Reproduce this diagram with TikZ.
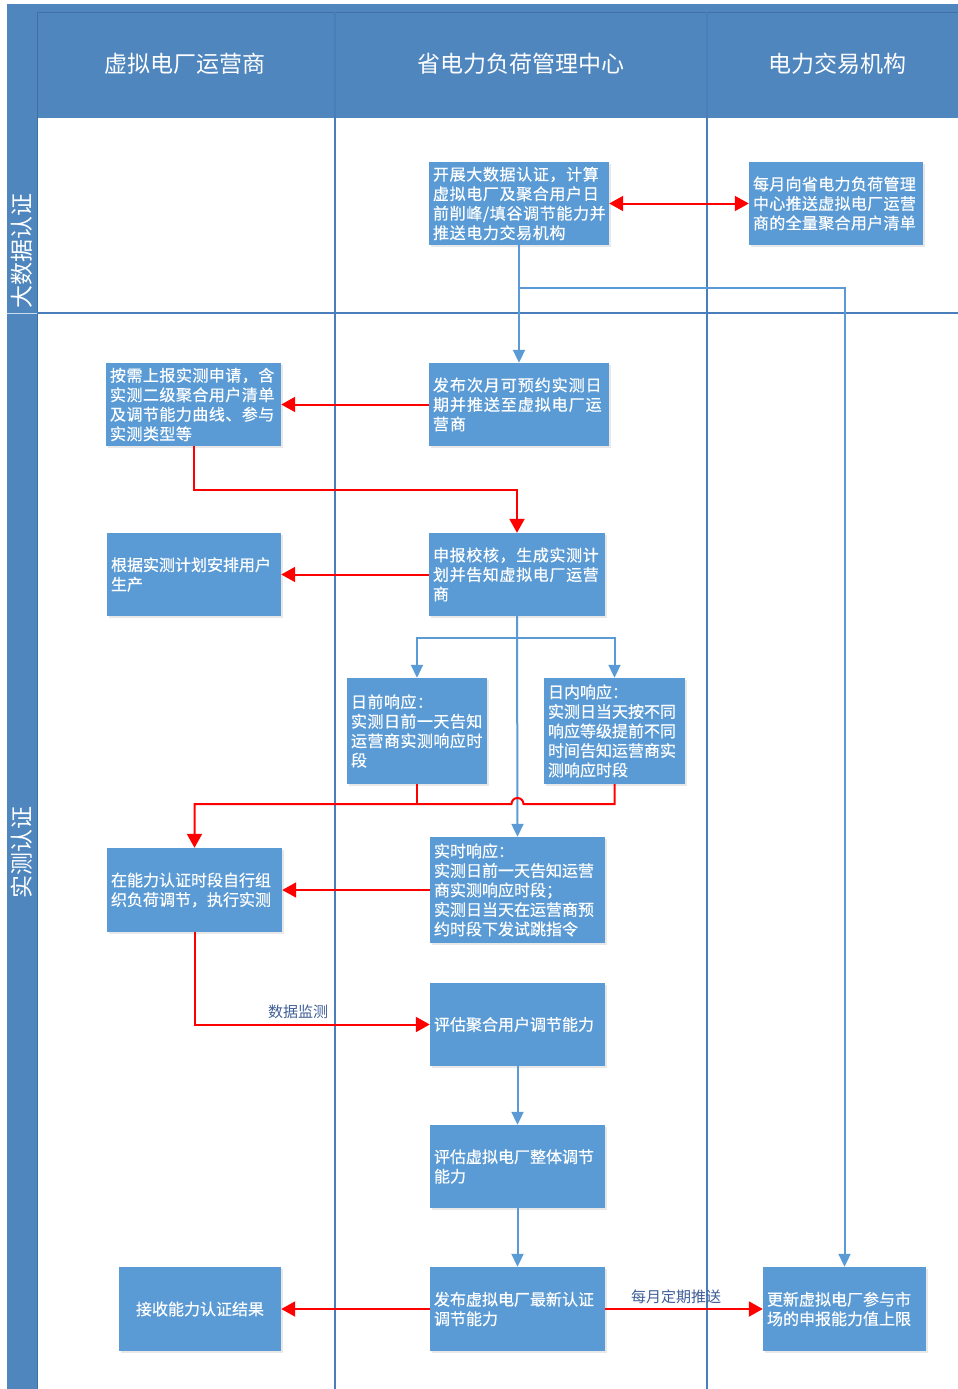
\documentclass[tikz,border=0pt]{standalone}
\usepackage{fontspec}
\setmainfont{Noto Sans CJK SC}
\usetikzlibrary{arrows.meta,shadows,calc}
\definecolor{boxblue}{HTML}{5B9BD5}
\definecolor{headblue}{HTML}{4F86BE}
\definecolor{laneline}{HTML}{4A7EBB}
\definecolor{headline}{HTML}{3F6FA6}
\definecolor{lblue}{HTML}{3F5E96}
\tikzset{
 box/.style={fill=boxblue, text=white, inner xsep=4pt, inner ysep=0pt, align=left,
   font=\fontsize{16}{19.5}\selectfont\addfontfeature{FakeBold=0.5},
   drop shadow={shadow xshift=1.5pt, shadow yshift=-1.5pt, opacity=0.18}},
 barrow/.style={draw=boxblue, line width=2pt, -{Triangle[length=13pt,width=12pt]}},
 rarrow/.style={draw=red, line width=2pt, -{Triangle[length=14pt,width=15pt]}},
 rline/.style={draw=red, line width=2pt},
 lane/.style={draw=laneline, line width=1.2pt},
 head/.style={text=white, font=\fontsize{23}{26}\selectfont},
 lbl/.style={text=lblue, font=\fontsize{15}{18}\selectfont},
}
\begin{document}
\begin{tikzpicture}[x=1pt,y=-1pt]
\useasboundingbox (0,0) rectangle (958,1389);
% frame
\fill[headblue] (7,4) rectangle (958,118);
\fill[headblue] (7,4) rectangle (37,1389);
\draw[headline, line width=0.8pt] (37,12) -- (958,12);
\draw[headline, line width=0.8pt] (37,12) -- (37,1389);
\draw[lane] (335,12) -- (335,1389);
\draw[lane] (707,12) -- (707,1389);
\draw[lane] (37,313) -- (958,313);
\draw[white!70!headblue, line width=0.8pt] (7,313) -- (37,313);
% headers
\node[head] (H1) at (185,64) {虚拟电厂运营商};
\node[head] (H2) at (521,64) {省电力负荷管理中心};
\node[head] (H3) at (837,64) {电力交易机构};
\node[head, rotate=90] (L1) at (22,251) {大数据认证};
\node[head, rotate=90] (L2) at (22,852) {实测认证};
% boxes
\node[box, text width=172pt, minimum height=83pt] (B1) at (519,203.5)
 {\addfontfeature{LetterSpace=4}开展大数据认证，计算\\虚拟电厂及聚合用户日\\前削峰/填谷调节能力并\\推送电力交易机构};
\node[box, text width=166pt, minimum height=83pt] (B2) at (836,203.5)
 {\addfontfeature{LetterSpace=2}每月向省电力负荷管理\\中心推送虚拟电厂运营\\商的全量聚合用户清单};
\node[box, text width=172pt, minimum height=83pt] (B3) at (519,404.5)
 {\addfontfeature{LetterSpace=6}发布次月可预约实测日\\期并推送至虚拟电厂运\\营商};
\node[box, text width=167pt, minimum height=83pt] (B4) at (193.5,404.5)
 {\addfontfeature{LetterSpace=3}按需上报实测申请，含\\实测二级聚合用户清单\\及调节能力曲线、参与\\实测类型等};
\node[box, text width=168pt, minimum height=83pt] (B5) at (517,574.5)
 {\addfontfeature{LetterSpace=4}申报校核，生成实测计\\划并告知虚拟电厂运营\\商};
\node[box, text width=166pt, minimum height=83pt] (B6) at (194,574.5)
 {根据实测计划安排用户\\生产};
\node[box, text width=132pt, minimum height=106pt] (B7) at (417,731)
 {\addfontfeature{LetterSpace=3}日前响应：\\实测日前一天告知\\运营商实测响应时\\段};
\node[box, text width=133pt, minimum height=106pt] (B8) at (614.5,731)
 {日内响应：\\实测日当天按不同\\响应等级提前不同\\时间告知运营商实\\测响应时段};
\node[box, text width=167pt, minimum height=106pt] (B9) at (517.5,890)
 {实时响应：\\实测日前一天告知运营\\商实测响应时段；\\实测日当天在运营商预\\约时段下发试跳指令};
\node[box, text width=167pt, minimum height=84pt] (B10) at (194.5,890)
 {在能力认证时段自行组\\织负荷调节，执行实测};
\node[box, text width=167pt, minimum height=83pt] (B11) at (517.5,1024.5)
 {评估聚合用户调节能力};
\node[box, text width=167pt, minimum height=83pt] (B12) at (517.5,1166.5)
 {评估虚拟电厂整体调节\\能力};
\node[box, text width=167pt, minimum height=84pt] (B13) at (517.5,1309)
 {发布虚拟电厂最新认证\\调节能力};
\node[box, text width=154pt, minimum height=84pt, align=center] (B14) at (200,1309)
 {接收能力认证结果};
\node[box, text width=155pt, minimum height=84pt] (B15) at (844.5,1309)
 {更新虚拟电厂参与市\\场的申报能力值上限};
% connectors
\draw[draw=red, line width=2pt, {Triangle[length=14pt,width=15pt]}-{Triangle[length=14pt,width=15pt]}] (B1.east) -- (B2.west);
\coordinate (t1) at (519,288);
\draw[barrow] (B1.south) -- (B3.north);
\draw[barrow] (t1) -| (B15.north);
\draw[rarrow] (B3.west) -- (B4.east);
\draw[rarrow] (B4.south) -- ++(0,44) -| (B5.north);
\draw[rarrow] (B5.west) -- (B6.east);
\draw[barrow] (B5.south) -- (B9.north);
\coordinate (t2) at (517,638);
\draw[barrow] (t2) -| (B7.north);
\draw[barrow] (t2) -| (B8.north);
\coordinate (j) at (517.5,804);
\draw[rline] (B7.south) -- (B7.south |- j);
\draw[rarrow] (B8.south) |- ([xshift=6pt]j) arc[start angle=0, end angle=180, radius=6pt] -| (B10.north);
\draw[rarrow] (B9.west) -- (B10.east);
\draw[rarrow] (B10.south) |- (B11.west) node[lbl, pos=0.72, above, yshift=1pt] {数据监测};
\draw[barrow] (B11.south) -- (B12.north);
\draw[barrow] (B12.south) -- (B13.north);
\draw[rarrow] (B13.west) -- (B14.east);
\draw[rarrow] (B13.east) -- (B15.west) node[lbl, pos=0.45, above, yshift=1pt] {每月定期推送};
\end{tikzpicture}
\end{document}
